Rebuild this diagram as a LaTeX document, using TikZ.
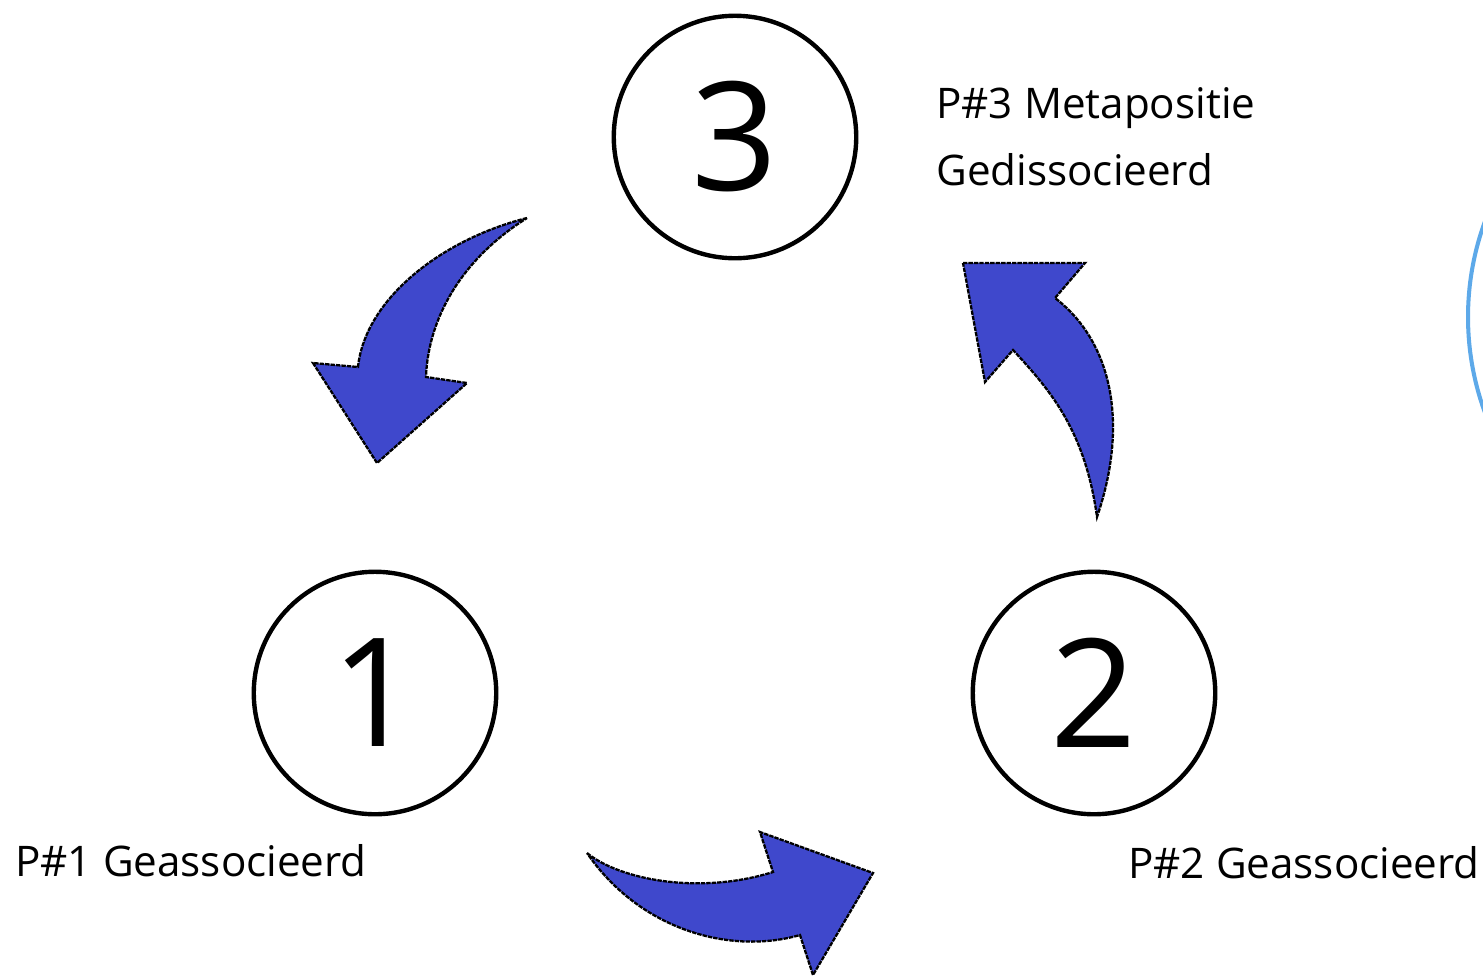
\documentclass[tikz,border=0pt]{standalone}
\usepackage{fontspec}
\setmainfont{Open Sans}
\usepackage{tikz}
\usetikzlibrary{positioning}
\definecolor{indigo}{RGB}{63,72,204}
\definecolor{lichtblauw}{RGB}{93,169,233}
\tikzset{
  stap/.style={circle, draw, line width=2.5pt, minimum size=4.85cm, inner sep=0pt,
    font=\fontsize{86}{86}\selectfont},
  tekst/.style={font=\fontsize{24}{38}\selectfont, align=left, inner sep=0pt},
  pijl/.style={fill=indigo, draw=black, line width=1.3pt, dash pattern=on 2.5pt off 0.6pt}
}
\begin{document}
\begin{tikzpicture}[x=0.02cm, y=-0.02cm]
\useasboundingbox (0,0) rectangle (1483,978);
\clip (0,0) rectangle (1483,978);
% de drie posities
\node[stap] (c3) at (735,137) {3};
\node[stap] (c1) at (375,693) {1};
\node[stap] (c2) at (1094,693) {2};
\node[tekst, anchor=base west] (t3) at (936,185) {P\#3 Metapositie\\Gedissocieerd};
\node[tekst, anchor=base west] (t1) at (15,876) {P\#1 Geassocieerd};
\node[tekst, anchor=base west] (t2) at (1128,878) {P\#2 Geassocieerd};
% pijlen
\draw[pijl] (527,218) .. controls (440,240) and (365,300) .. (358,367)
  -- (313,363) -- (377,463) -- (467,383) -- (426,377)
  .. controls (428,320) and (460,260) .. (527,218) -- cycle;
\draw[pijl] (963,263) -- (1085,263) -- (1055,298)
  .. controls (1110,340) and (1130,420) .. (1097,517)
  .. controls (1085,430) and (1050,390) .. (1013,350)
  -- (985,382) -- cycle;
\draw[pijl] (587,853) .. controls (620,880) and (700,895) .. (773,872)
  -- (760,832) -- (873,873) -- (813,975) -- (800,935)
  .. controls (730,955) and (640,930) .. (587,853) -- cycle;
% rand rechts
\draw[lichtblauw, line width=2.3pt] (1745,317) circle (277);
\end{tikzpicture}
\end{document}
